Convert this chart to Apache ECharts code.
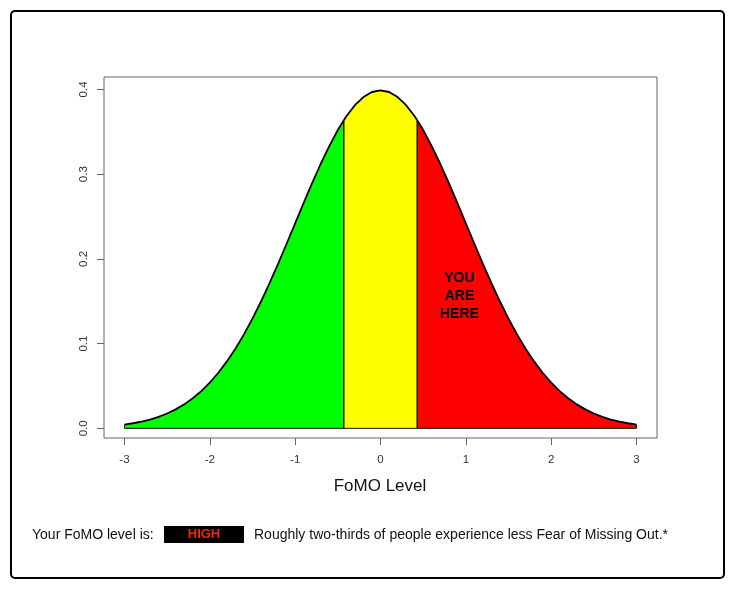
<!DOCTYPE html>
<html>
<head>
<meta charset="utf-8">
<script src="https://cdn.jsdelivr.net/npm/echarts@6/dist/echarts.min.js"></script>
<style>
html,body{margin:0;padding:0;background:#fff;}
#chart{width:735px;height:589px;}
</style>
</head>
<body>
<div id="chart"></div>
<script>
// FoMO level (z) and density
const fomoLevels = [-3.0,-2.9,-2.8,-2.7,-2.6,-2.5,-2.4,-2.3,-2.2,-2.1,-2.0,-1.9,-1.8,-1.7,-1.6,-1.5,-1.4,-1.3,-1.2,-1.1,-1.0,-0.9,-0.8,-0.7,-0.6,-0.5,-0.43,-0.4,-0.3,-0.2,-0.1,0.0,0.1,0.2,0.3,0.4,0.43,0.5,0.6,0.7,0.8,0.9,1.0,1.1,1.2,1.3,1.4,1.5,1.6,1.7,1.8,1.9,2.0,2.1,2.2,2.3,2.4,2.5,2.6,2.7,2.8,2.9,3.0];
const densities  = [0.0044,0.0060,0.0079,0.0104,0.0136,0.0175,0.0224,0.0283,0.0355,0.0440,0.0540,0.0656,0.0790,0.0940,0.1109,0.1295,0.1497,0.1714,0.1942,0.2179,0.2420,0.2661,0.2897,0.3123,0.3332,0.3521,0.3637,0.3683,0.3814,0.3910,0.3970,0.3989,0.3970,0.3910,0.3814,0.3683,0.3637,0.3521,0.3332,0.3123,0.2897,0.2661,0.2420,0.2179,0.1942,0.1714,0.1497,0.1295,0.1109,0.0940,0.0790,0.0656,0.0540,0.0440,0.0355,0.0283,0.0224,0.0175,0.0136,0.0104,0.0079,0.0060,0.0044];
const zoneNames  = ['Low','Medium','High'];
const zoneBreaks = [-3.0, -0.43, 0.43, 3.0];
const zoneColors = ['#00ff00','#ffff00','#ff0000'];
const xTickValues = [-3,-2,-1,0,1,2,3];
const xTickLabels = ['-3','-2','-1','0','1','2','3'];
const yTickValues = [0,0.1,0.2,0.3,0.4];
const yTickLabels = ['0.0','0.1','0.2','0.3','0.4'];
const annotationText = 'YOU\nARE\nHERE';
const annotationAt = [0.925, 0.156];

const chart = echarts.init(document.getElementById('chart'), null, {renderer:'canvas'});
const FONT = '"Liberation Sans", Arial, Helvetica, sans-serif';

const series = [];
zoneNames.forEach((name, i) => {
  const lo = zoneBreaks[i], hi = zoneBreaks[i+1];
  const pts = [];
  fomoLevels.forEach((x, j) => { if (x >= lo - 1e-9 && x <= hi + 1e-9) pts.push([x, densities[j]]); });
  const s = {
    name: name, type: 'line', data: pts, showSymbol: false, silent: true,
    lineStyle: {color: '#000', width: 1.8},
    areaStyle: {color: zoneColors[i], opacity: 1, origin: 0},
    z: 2
  };
  if (i === 2) {
    s.markPoint = {
      symbol: 'circle', symbolSize: 0, silent: true,
      data: [{coord: annotationAt}],
      label: {show: true, position: 'inside', formatter: annotationText, color: '#000',
              fontFamily: FONT, fontWeight: 'bold', fontSize: 14, lineHeight: 17.7, align: 'center', verticalAlign: 'middle'}
    };
  }
  series.push(s);
  // polygon border (sides and bottom)
  const first = pts[0], last = pts[pts.length-1];
  series.push({
    name: name + ' edge', type: 'line', showSymbol: false, silent: true,
    data: [first, [first[0], 0], [last[0], 0], last],
    lineStyle: {color: '#111', width: 1}, z: 3
  });
});

chart.setOption({
  animation: false,
  backgroundColor: '#fff',
  grid: {left: 104, right: 78, top: 77, bottom: 151, show: true, borderColor: '#666', borderWidth: 1, backgroundColor: 'transparent'},
  xAxis: {
    type: 'value', min: -3.24, max: 3.24, position: 'bottom',
    axisLine: {show: false, onZero: false},
    splitLine: {show: false},
    axisTick: {show: true, length: 7, inside: false, customValues: xTickValues, lineStyle: {color: '#666', width: 1}},
    axisLabel: {customValues: xTickValues, margin: 16, color: '#333', fontFamily: FONT, fontSize: 11.5,
                formatter: v => xTickLabels[xTickValues.indexOf(v)]}
  },
  yAxis: {
    type: 'value', min: -0.0114, max: 0.4147, position: 'left',
    axisLine: {show: false, onZero: false},
    splitLine: {show: false},
    axisTick: {show: true, length: 7, inside: false, customValues: yTickValues, lineStyle: {color: '#666', width: 1}},
    axisLabel: {customValues: yTickValues, margin: 14, rotate: 90, color: '#333', fontFamily: FONT, fontSize: 11.5,
                formatter: v => { const k = yTickValues.findIndex(t => Math.abs(t - v) < 1e-9); return k >= 0 ? yTickLabels[k] : ''; }}
  },
  series: series,
  graphic: [
    {type: 'rect', shape: {x: 11, y: 11, width: 713, height: 567, r: 4}, style: {fill: 'none', stroke: '#000', lineWidth: 2}, silent: true},
    {type: 'text', x: 380, y: 486, style: {text: 'FoMO Level', fill: '#111', font: '17px ' + FONT, textAlign: 'center', textVerticalAlign: 'middle'}},
    {type: 'text', x: 32, y: 535, style: {text: 'Your FoMO level is:', fill: '#111', font: '14px ' + FONT, textAlign: 'left', textVerticalAlign: 'middle'}},
    {type: 'rect', shape: {x: 164, y: 526, width: 80, height: 17}, style: {fill: '#000'}},
    {type: 'text', x: 204, y: 534.5, style: {text: 'HIGH', fill: '#ff2200', font: 'bold 13px ' + FONT, textAlign: 'center', textVerticalAlign: 'middle'}},
    {type: 'text', x: 254, y: 535, style: {text: 'Roughly two-thirds of people experience less Fear of Missing Out.*', fill: '#111', font: '14px ' + FONT, textAlign: 'left', textVerticalAlign: 'middle'}}
  ]
});
</script>
</body>
</html>
